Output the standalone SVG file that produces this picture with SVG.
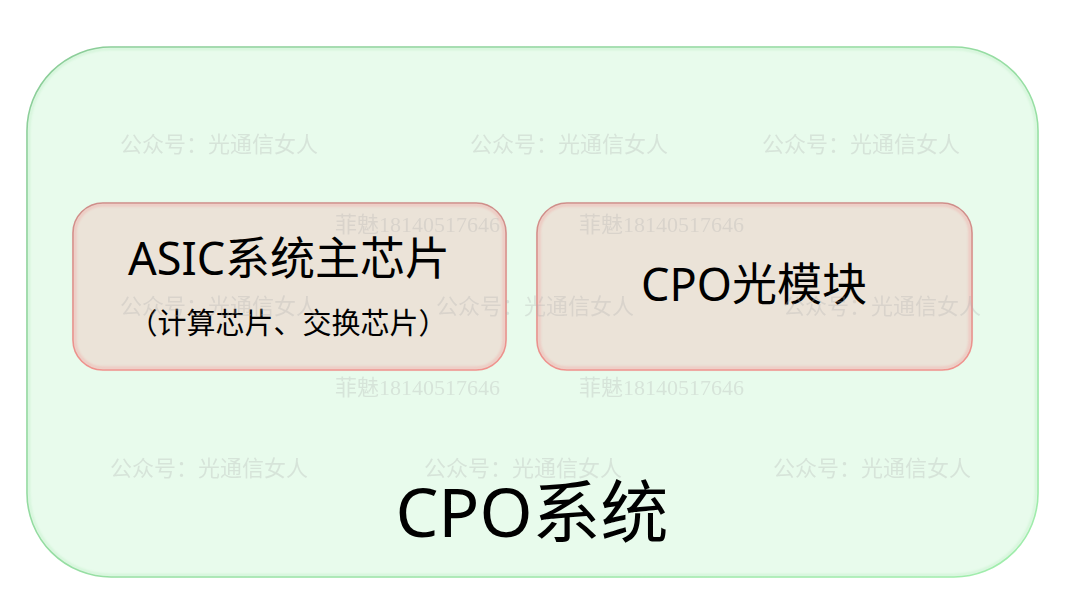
<svg xmlns="http://www.w3.org/2000/svg" width="1080" height="608" viewBox="0 0 1080 608">
<defs>
<linearGradient id="gStroke" x1="0" y1="0" x2="1" y2="1">
<stop offset="0" stop-color="#86c994"/>
<stop offset="1" stop-color="#9eeeaa"/>
</linearGradient>
<linearGradient id="rStroke" x1="0" y1="0" x2="0" y2="1">
<stop offset="0" stop-color="#c98a86"/>
<stop offset="1" stop-color="#f08f8a"/>
</linearGradient>
<filter id="inner" x="-5%" y="-5%" width="110%" height="110%">
<feGaussianBlur stdDeviation="1.2"/>
</filter>
</defs>
<style>
.main{font-family:"Noto Sans","Noto Sans CJK SC",sans-serif;fill:#000;text-anchor:middle}
.wm{font-family:"Liberation Serif","Noto Sans CJK SC",serif;font-size:22px;fill:#b0b0b0;opacity:0.3}
.box{fill:#ebe3d8;stroke:url(#rStroke);stroke-width:1.6}
.glow{fill:none;stroke:#f0a8a4;stroke-width:3;opacity:0.45}
</style>
<rect width="1080" height="608" fill="#ffffff"/>
<g id="cpo-system">
<rect x="27" y="47" width="1011" height="530" rx="84" ry="84" fill="#e8fbec" stroke="url(#gStroke)" stroke-width="1.6"/>
<rect x="29" y="49" width="1007" height="526" rx="82" ry="82" fill="none" stroke="#b8ecc0" stroke-width="2" opacity="0.5" filter="url(#inner)"/>
<text class="main" x="532" y="537" font-size="68">CPO系统</text>
</g>
<g id="connectors"/>
<g id="asic">
<rect class="box" x="73" y="203" width="433" height="167" rx="30" ry="30"/>
<rect class="glow" x="75" y="205" width="429" height="163" rx="28" ry="28" filter="url(#inner)"/>
<text class="main" x="289" y="275" font-size="45">ASIC系统主芯片</text>
<text class="main" x="288" y="334" font-size="29">（计算芯片、交换芯片）</text>
</g>
<g id="cpo-module">
<rect class="box" x="537" y="203" width="435" height="167" rx="30" ry="30"/>
<rect class="glow" x="539" y="205" width="431" height="163" rx="28" ry="28" filter="url(#inner)"/>
<text class="main" x="754" y="301" font-size="45">CPO光模块</text>
</g>
<g id="watermarks">
<text class="wm" x="120" y="152">公众号：光通信女人</text>
<text class="wm" x="470" y="152">公众号：光通信女人</text>
<text class="wm" x="762" y="152">公众号：光通信女人</text>
<text class="wm" x="335" y="232">菲魅18140517646</text>
<text class="wm" x="579" y="232">菲魅18140517646</text>
<text class="wm" x="120" y="314">公众号：光通信女人</text>
<text class="wm" x="436" y="314">公众号：光通信女人</text>
<text class="wm" x="783" y="314">公众号：光通信女人</text>
<text class="wm" x="335" y="395">菲魅18140517646</text>
<text class="wm" x="579" y="395">菲魅18140517646</text>
<text class="wm" x="110" y="476">公众号：光通信女人</text>
<text class="wm" x="424" y="476">公众号：光通信女人</text>
<text class="wm" x="773" y="476">公众号：光通信女人</text>
</g>
</svg>
